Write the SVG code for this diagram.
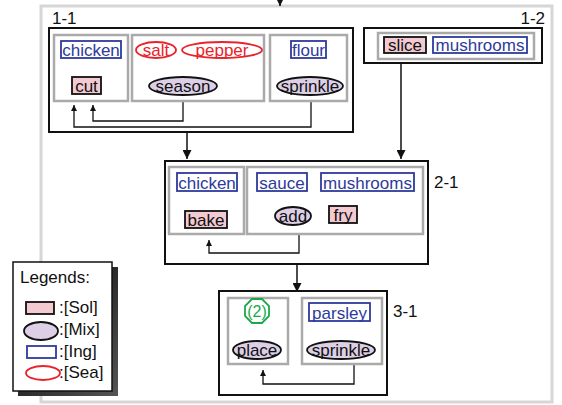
<svg xmlns="http://www.w3.org/2000/svg" width="562" height="405" viewBox="0 0 562 405">
<defs>
<style>
text{font-family:"Liberation Sans",Arial,sans-serif;}
.frame{fill:none;stroke:#d6d6d6;stroke-width:3}
.box{fill:none;stroke:#111;stroke-width:2}
.sub{fill:none;stroke:#aaaaaa;stroke-width:2.5}
.sol{fill:#f3c9d2;stroke:#111;stroke-width:1.8}
.mix{fill:#dccfe6;stroke:#111;stroke-width:1.8}
.ing{fill:#fff;stroke:#2e3a9c;stroke-width:1.8}
.sea{fill:#fff;stroke:#e8232b;stroke-width:1.8}
.t{font-size:17px;fill:#111;text-anchor:middle}
.ti{font-size:17px;fill:#2e3a9c;text-anchor:middle}
.ts{font-size:17px;fill:#e8232b;text-anchor:middle}
.lbl{font-size:17px;fill:#111}
.con{fill:none;stroke:#111;stroke-width:1.3}
.flow{fill:none;stroke:#111;stroke-width:1.5}
</style>
<marker id="ah" viewBox="0 0 10 10" refX="10" refY="5" markerWidth="7" markerHeight="6" orient="auto" markerUnits="userSpaceOnUse"><path d="M0,0 L10,5 L0,10 z" fill="#111"/></marker>
<marker id="ahb" viewBox="0 0 10 10" refX="10" refY="5" markerWidth="11" markerHeight="9" orient="auto" markerUnits="userSpaceOnUse"><path d="M0,0 L10,5 L0,10 z" fill="#111"/></marker>
<linearGradient id="sh" x1="0" y1="0" x2="1" y2="1"><stop offset="0" stop-color="#000"/><stop offset="1" stop-color="#555"/></linearGradient>
</defs>
<rect class="frame" x="41" y="6" width="511" height="396"/>

<g id="connectors">
<path class="flow" d="M280,0 V6" marker-end="url(#ahb)"/>
<path class="flow" d="M187,132 V159" marker-end="url(#ahb)"/>
<path class="flow" d="M401,63 V159" marker-end="url(#ahb)"/>
<path class="flow" d="M297,264 V292" marker-end="url(#ahb)"/>
<path class="con" d="M183,101 V121 H93 V105" marker-end="url(#ah)"/>
<path class="con" d="M311,101 V127 H74 V105" marker-end="url(#ah)"/>
<path class="con" d="M299,234 V253 H209 V240" marker-end="url(#ah)"/>
<path class="con" d="M354,364 V384 H263 V370" marker-end="url(#ah)"/>
</g>

<g id="n1-1">
<rect class="box" x="49" y="28" width="304" height="104"/>
<text class="lbl" x="52" y="24">1-1</text>
<rect class="sub" x="54" y="35" width="74" height="66"/>
<rect class="sub" x="132" y="35" width="132" height="66"/>
<rect class="sub" x="270" y="35" width="77" height="66"/>
<rect class="ing" x="61" y="41" width="60" height="17"/><text class="ti" x="91" y="56">chicken</text>
<ellipse class="sea" cx="156" cy="50" rx="20" ry="8"/><text class="ts" x="156" y="56">salt</text>
<ellipse class="sea" cx="222" cy="50" rx="40" ry="8"/><text class="ts" x="222" y="56">pepper</text>
<rect class="ing" x="291" y="41" width="35" height="17"/><text class="ti" x="308.5" y="56">flour</text>
<rect class="sol" x="72" y="77" width="29" height="17"/><text class="t" x="86.5" y="92">cut</text>
<ellipse class="mix" cx="183" cy="86" rx="34" ry="9"/><text class="t" x="183" y="92">season</text>
<ellipse class="mix" cx="310" cy="86" rx="33" ry="9"/><text class="t" x="310" y="92">sprinkle</text>
</g>

<g id="n1-2">
<rect class="box" x="364" y="28" width="178" height="35"/>
<text class="lbl" x="545" y="24" text-anchor="end">1-2</text>
<rect class="sub" x="378" y="33" width="156" height="26"/>
<rect class="sol" x="384" y="37" width="42" height="16"/><text class="t" x="405" y="51">slice</text>
<rect class="ing" x="433" y="37" width="94" height="16"/><text class="ti" x="480" y="51">mushrooms</text>
</g>

<g id="n2-1">
<rect class="box" x="165" y="161" width="263" height="103"/>
<text class="lbl" x="434" y="188">2-1</text>
<rect class="sub" x="169" y="167" width="75" height="67"/>
<rect class="sub" x="247" y="167" width="176" height="67"/>
<rect class="ing" x="177" y="173" width="60" height="18"/><text class="ti" x="207" y="189">chicken</text>
<rect class="ing" x="257" y="173" width="50" height="18"/><text class="ti" x="282" y="189">sauce</text>
<rect class="ing" x="321" y="173" width="93" height="18"/><text class="ti" x="367.5" y="189">mushrooms</text>
<rect class="sol" x="185" y="211" width="42" height="17"/><text class="t" x="206" y="226">bake</text>
<ellipse class="mix" cx="293" cy="216" rx="18" ry="9"/><text class="t" x="293" y="222">add</text>
<rect class="sol" x="329" y="206" width="28" height="17"/><text class="t" x="343" y="221">fry</text>
</g>

<g id="n3-1">
<rect class="box" x="219" y="291" width="168" height="104"/>
<text class="lbl" x="393" y="317">3-1</text>
<rect class="sub" x="228" y="298" width="60" height="66"/>
<rect class="sub" x="302" y="298" width="80" height="66"/>
<polygon points="252,299 262,299 269,306 269,316 262,323 252,323 245,316 245,306" fill="#fff" stroke="#1ba84a" stroke-width="1.8"/>
<text x="257" y="317" font-size="16" fill="#1ba84a" text-anchor="middle">(2)</text>
<rect class="ing" x="309" y="303" width="61" height="18"/><text class="ti" x="339.5" y="319">parsley</text>
<ellipse class="mix" cx="257" cy="350" rx="24" ry="9"/><text class="t" x="257" y="356">place</text>
<ellipse class="mix" cx="341" cy="350" rx="34" ry="9"/><text class="t" x="341" y="356">sprinkle</text>
</g>

<g id="legend">
<rect x="18" y="267" width="100" height="129" fill="url(#sh)"/>
<rect x="13" y="262" width="99" height="129" fill="#fff" stroke="#111" stroke-width="1.5"/>
<text class="lbl" x="20" y="283">Legends:</text>
<rect class="sol" x="26" y="302" width="28" height="12"/><text class="lbl" x="59" y="313">:[Sol]</text>
<ellipse class="mix" cx="41" cy="331" rx="17" ry="9"/><text class="lbl" x="59" y="335">:[Mix]</text>
<rect class="ing" x="27" y="346" width="29" height="12"/><text class="lbl" x="59" y="357">:[Ing]</text>
<ellipse class="sea" cx="43" cy="373" rx="17" ry="7"/><text class="lbl" x="59" y="378">:[Sea]</text>
</g>
</svg>
